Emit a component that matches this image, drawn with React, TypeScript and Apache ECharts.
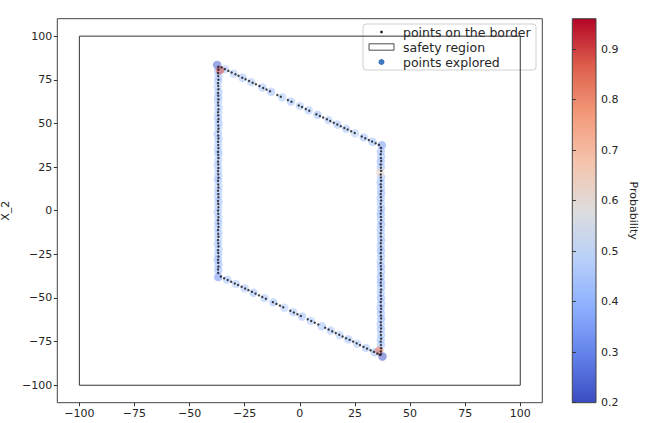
import React, { useEffect, useRef } from "react";
import * as echarts from "echarts";

// ---------- data ----------
const axisTicks = [-100, -75, -50, -25, 0, 25, 50, 75, 100];
const colorbarTicks = [0.2, 0.3, 0.4, 0.5, 0.6, 0.7, 0.8, 0.9];
const probRange = [0.2, 0.96];

const safetyRegion: number[][] = [
  [-100, -100], [-100, 100], [100, 100], [100, -100], [-100, -100],
];

const borderLeft: number[][] = [
  [-37.0, 82.5], [-36.9, 80.8], [-37.1, 78.9], [-37.0, 77.2], [-36.9, 75.0], [-37.1, 73.1], [-37.0, 71.4],
  [-36.9, 69.6], [-37.1, 67.5], [-37.0, 65.9], [-36.9, 63.8], [-37.1, 62.0], [-37.0, 60.3], [-36.9, 58.1],
  [-37.1, 56.4], [-37.0, 54.6], [-36.9, 52.5], [-37.1, 50.9], [-37.0, 48.8], [-36.9, 47.0], [-37.1, 45.2],
  [-37.0, 43.1], [-36.9, 41.4], [-37.1, 39.5], [-37.0, 37.6], [-36.9, 35.8], [-37.1, 33.7], [-37.0, 32.0],
  [-36.9, 30.1], [-37.1, 28.2], [-37.0, 26.5], [-36.9, 24.4], [-37.1, 22.7], [-37.0, 20.8], [-36.9, 18.9],
  [-37.1, 17.1], [-37.0, 15.0], [-36.9, 13.3], [-37.1, 11.4], [-37.0, 9.5], [-36.9, 7.7], [-37.1, 5.6],
  [-37.0, 3.9], [-36.9, 2.0], [-37.1, 0.1], [-37.0, -1.7], [-36.9, -3.8], [-37.1, -5.5], [-37.0, -7.4],
  [-36.9, -9.3], [-37.1, -11.1], [-37.0, -13.2], [-36.9, -14.9], [-37.1, -16.8], [-37.0, -18.7],
  [-36.9, -20.5], [-37.1, -22.6], [-37.0, -24.3], [-36.9, -26.2], [-37.1, -28.1], [-37.0, -29.9],
  [-36.9, -32.0], [-37.1, -33.7], [-37.0, -35.6],
];

const borderTop: number[][] = [
  [-35.5, 82.1], [-34.0, 81.1], [-32.4, 80.1], [-30.9, 79.2], [-29.2, 78.2], [-27.8, 77.3], [-26.1, 76.2],
  [-24.6, 75.3], [-23.0, 74.3], [-21.4, 73.3], [-19.9, 72.4], [-18.3, 71.4], [-16.6, 70.3], [-15.1, 69.4],
  [-13.5, 68.4], [-10.2, 66.3], [-8.6, 65.3], [-5.4, 63.4], [-3.8, 62.4], [-0.5, 60.3], [1.0, 59.4],
  [2.7, 58.3], [4.3, 57.3], [7.5, 55.3], [9.1, 54.3], [10.6, 53.4], [12.3, 52.4], [13.8, 51.4],
  [15.4, 50.4], [17.0, 49.4], [18.6, 48.4], [20.2, 47.4], [21.7, 46.5], [23.3, 45.5], [24.9, 44.5],
  [28.1, 42.5], [29.7, 41.5], [31.3, 40.5], [32.8, 39.6], [34.4, 38.6], [35.9, 37.7],
];

const borderRight: number[][] = [
  [36.8, 36.0], [36.9, 34.1], [36.7, 32.3], [36.8, 30.2], [36.9, 28.4], [36.7, 26.5], [36.8, 24.6],
  [36.9, 22.8], [36.7, 20.7], [36.8, 19.0], [36.9, 17.1], [36.7, 15.2], [36.8, 13.4], [36.9, 11.3],
  [36.7, 9.6], [36.8, 7.7], [36.9, 5.8], [36.7, 4.0], [36.8, 1.9], [36.9, 0.2], [36.7, -1.7],
  [36.8, -3.6], [36.9, -5.4], [36.7, -7.5], [36.8, -9.2], [36.9, -11.1], [36.7, -13.0], [36.8, -14.8],
  [36.9, -16.9], [36.7, -18.6], [36.8, -20.5], [36.9, -22.4], [36.7, -24.2], [36.8, -26.3], [36.9, -28.0],
  [36.7, -29.9], [36.8, -31.8], [36.9, -33.6], [36.7, -35.7], [36.8, -37.4], [36.9, -39.3], [36.7, -41.2],
  [36.8, -43.0], [36.9, -45.1], [36.7, -46.8], [36.8, -48.7], [36.9, -50.6], [36.7, -52.4], [36.8, -54.5],
  [36.9, -56.2], [36.7, -58.1], [36.8, -60.0], [36.9, -61.8], [36.7, -63.9], [36.8, -65.6], [36.9, -67.5],
  [36.7, -69.4], [36.8, -71.2], [36.9, -73.3], [36.7, -75.0], [36.8, -76.9], [36.9, -78.8], [36.7, -80.6],
  [36.8, -82.3],
];

const borderBottom: number[][] = [
  [-35.8, -37.7], [-34.3, -38.7], [-32.7, -39.7], [-31.1, -40.7], [-29.5, -41.7], [-28.0, -42.6],
  [-26.4, -43.6], [-24.8, -44.6], [-23.3, -45.5], [-21.7, -46.5], [-20.1, -47.5], [-18.5, -48.5],
  [-17.0, -49.4], [-15.4, -50.4], [-12.2, -52.4], [-10.6, -53.4], [-9.0, -54.4], [-7.5, -55.3],
  [-4.3, -57.3], [-2.7, -58.3], [-1.1, -59.3], [0.5, -60.3], [3.6, -62.2], [5.2, -63.2], [6.8, -64.2],
  [8.4, -65.2], [11.5, -67.1], [13.1, -68.1], [14.7, -69.1], [16.3, -70.1], [17.9, -71.1], [19.4, -72.1],
  [21.0, -73.1], [22.6, -74.0], [24.2, -75.0], [25.8, -76.0], [27.3, -77.0], [28.9, -78.0], [30.5, -79.0],
  [32.1, -80.0], [33.6, -80.9], [35.2, -81.9], [36.3, -82.6],
];

// [x, y, probability]
const exploredLeft: number[][] = [
  [-37.1, 80, 0.44], [-36.9, 77, 0.46], [-37.0, 74.5, 0.43], [-37.2, 71, 0.47], [-36.9, 68, 0.45],
  [-37.0, 65, 0.42], [-37.1, 62.5, 0.46], [-36.9, 59, 0.44], [-37.0, 56, 0.47], [-37.1, 53, 0.43],
  [-36.8, 50, 0.45], [-37.0, 47.5, 0.46], [-37.2, 44, 0.42], [-36.9, 41, 0.44], [-37.0, 38, 0.47],
  [-37.1, 35, 0.45], [-36.9, 32.5, 0.43], [-37.0, 29, 0.46], [-37.2, 26, 0.44], [-36.9, 23, 0.47],
  [-37.0, 20, 0.45], [-37.1, 17.5, 0.42], [-36.9, 14, 0.46], [-37.0, 11, 0.44], [-37.1, 8, 0.45],
  [-36.9, 5, 0.43], [-37.0, 2, 0.47], [-37.2, -1, 0.44], [-36.9, -4, 0.46], [-37.0, -7, 0.42],
  [-37.1, -10, 0.45], [-36.9, -13, 0.44], [-37.0, -16, 0.47], [-37.1, -19, 0.43], [-36.9, -22, 0.45],
  [-37.0, -25, 0.44], [-37.2, -28, 0.40], [-36.9, -31, 0.42], [-37.0, -34, 0.41],
];

const exploredTop: number[][] = [
  [-34, 81.1, 0.45], [-30, 78.6, 0.47], [-26, 76.2, 0.44], [-22, 73.7, 0.46], [-17, 70.6, 0.45],
  [-13, 68.1, 0.43], [-8, 65.0, 0.46], [-4, 62.5, 0.44], [0, 60.0, 0.47], [4, 57.5, 0.45],
  [8, 55.0, 0.43], [13, 51.9, 0.46], [17, 49.4, 0.44], [21, 46.9, 0.45], [25, 44.4, 0.47],
  [29, 42.0, 0.44], [33, 39.5, 0.43],
];

const exploredRight: number[][] = [
  [36.8, 34, 0.42], [36.9, 31, 0.44], [36.7, 28, 0.41], [36.8, 25, 0.43], [36.9, 19, 0.45],
  [36.7, 16, 0.42], [36.8, 13, 0.44], [36.9, 10, 0.41], [36.7, 7, 0.43], [36.8, 4, 0.45],
  [36.9, 1, 0.42], [36.7, -2, 0.40], [36.8, -5, 0.44], [36.9, -8, 0.41], [36.7, -11, 0.43],
  [36.8, -14, 0.45], [36.9, -17, 0.42], [36.7, -20, 0.44], [36.8, -23, 0.40], [36.9, -26, 0.43],
  [36.7, -29, 0.45], [36.8, -32, 0.41], [36.9, -35, 0.44], [36.7, -38, 0.42], [36.8, -41, 0.40],
  [36.9, -44, 0.43], [36.7, -47, 0.45], [36.8, -50, 0.41], [36.9, -53, 0.44], [36.7, -56, 0.42],
  [36.8, -59, 0.43], [36.9, -62, 0.41], [36.7, -65, 0.44], [36.8, -68, 0.42], [36.9, -71, 0.45],
  [36.7, -74, 0.43], [36.8, -77, 0.44],
];

const exploredBottom: number[][] = [
  [-33, -39.5, 0.44], [-29, -42.0, 0.46], [-25, -44.5, 0.45], [-21, -47.0, 0.43], [-16, -50.1, 0.46],
  [-12, -52.5, 0.44], [-7, -55.6, 0.47], [-3, -58.1, 0.45], [1, -60.6, 0.43], [5, -63.1, 0.46],
  [10, -66.2, 0.44], [14, -68.7, 0.45], [18, -71.2, 0.47], [22, -73.7, 0.44], [26, -76.2, 0.46],
  [30, -78.6, 0.45], [34, -81.1, 0.43],
];

const exploredCorners: number[][] = [
  [36.5, 22, 0.62],
  [-37.5, 83.5, 0.24], [-36.2, 80.5, 0.88], [37.2, 37.5, 0.34], [-37.0, -38.0, 0.32],
  [36.0, -80.2, 0.85], [37.5, -83.5, 0.22],
];

const coolwarm = [
  "#3b4cc0", "#6282ea", "#8db0fe", "#b8d0f9", "#dddddd", "#f5c4ad", "#f49a7b", "#de604d", "#b40426",
];

const legendLabels = ["points on the border", "safety region", "points explored"];

// ---------- chart ----------
const FONT = "DejaVu Sans";
const TEXT = "#262626";
const minus = (v: number) => String(v).replace("-", "\u2212");

export default function App() {
  const ref = useRef<HTMLDivElement>(null);

  useEffect(() => {
    document.body.style.margin = "0";
    if (!ref.current) return;
    const chart = echarts.init(ref.current, null, { renderer: "svg" });

    const borderPoints = [...borderLeft, ...borderTop, ...borderRight, ...borderBottom];
    const exploredPoints = [...exploredLeft, ...exploredTop, ...exploredRight, ...exploredBottom, ...exploredCorners];

    const gradientStops = coolwarm.map((c, i) => ({ offset: i / (coolwarm.length - 1), color: c }));

    const legendX = 363;
    const legendY = 24;
    const rowY = [32, 47, 62];

    chart.setOption({
      animation: false,
      textStyle: { fontFamily: FONT },
      grid: [
        {
          left: 57.3, top: 18.7, right: 105.7, bottom: 20.3,
          containLabel: false, outerBoundsMode: "none",
          show: true, borderColor: "#444", borderWidth: 1, backgroundColor: "#fff",
        },
        {
          left: 572.3, top: 18.7, width: 23.7, height: 384,
          containLabel: false, outerBoundsMode: "none",
          show: true, borderColor: "#444", borderWidth: 1,
          backgroundColor: new echarts.graphic.LinearGradient(0, 1, 0, 0, gradientStops),
        },
      ],
      xAxis: [
        {
          type: "value", gridIndex: 0, min: -110, max: 110,
          name: "X_1", nameLocation: "middle", nameGap: 15,
          nameTextStyle: { fontSize: 11, color: TEXT, fontFamily: FONT },
          axisLine: { show: false, onZero: false },
          axisTick: { show: true, inside: false, length: 3.5, customValues: axisTicks, lineStyle: { color: "#333" } },
          axisLabel: { customValues: axisTicks, fontSize: 11, color: TEXT, margin: 5, fontFamily: FONT, formatter: minus },
          splitLine: { show: false },
        },
        { type: "value", gridIndex: 1, min: 0, max: 1, show: false },
      ],
      yAxis: [
        {
          type: "value", gridIndex: 0, min: -110, max: 110,
          name: "X_2", nameLocation: "middle", nameGap: 42,
          nameTextStyle: { fontSize: 11, color: TEXT, fontFamily: FONT },
          axisLine: { show: false, onZero: false },
          axisTick: { show: true, inside: false, length: 3.5, customValues: axisTicks, lineStyle: { color: "#333" } },
          axisLabel: { customValues: axisTicks, fontSize: 11, color: TEXT, margin: 5, fontFamily: FONT, formatter: minus },
          splitLine: { show: false },
        },
        {
          type: "value", gridIndex: 1, min: probRange[0], max: probRange[1], position: "right",
          name: "Probability", nameLocation: "middle", nameGap: 32, nameRotate: -90,
          nameTextStyle: { fontSize: 11, color: TEXT, fontFamily: FONT },
          axisLine: { show: false },
          axisTick: { show: true, inside: false, length: 3.5, customValues: colorbarTicks, lineStyle: { color: "#333" } },
          axisLabel: {
            customValues: colorbarTicks, fontSize: 11, color: TEXT, margin: 5, fontFamily: FONT,
            formatter: (v: number) => v.toFixed(1),
          },
          splitLine: { show: false },
        },
      ],
      visualMap: {
        type: "continuous", show: false, min: probRange[0], max: probRange[1], dimension: 2,
        seriesIndex: 1, inRange: { color: coolwarm },
      },
      series: [
        {
          name: legendLabels[1], type: "line", xAxisIndex: 0, yAxisIndex: 0, data: safetyRegion,
          symbol: "none", silent: true, lineStyle: { color: "#333", width: 1 }, z: 1,
        },
        {
          name: legendLabels[2], type: "scatter", xAxisIndex: 0, yAxisIndex: 0, data: exploredPoints,
          symbolSize: 8.5, itemStyle: { opacity: 0.55 }, silent: true, z: 2,
        },
        {
          name: legendLabels[0], type: "scatter", xAxisIndex: 0, yAxisIndex: 0, data: borderPoints,
          symbolSize: 2.4, itemStyle: { color: "#111" }, silent: true, z: 3,
        },
      ],
      graphic: [
        {
          type: "group", z: 100,
          children: [
            {
              type: "rect", shape: { x: legendX, y: legendY, width: 173, height: 46, r: 3 },
              style: { fill: "rgba(255,255,255,0.8)", stroke: "#d0d0d0", lineWidth: 1 },
            },
            { type: "circle", shape: { cx: 381.5, cy: rowY[0], r: 1.3 }, style: { fill: "#111" } },
            {
              type: "rect", shape: { x: 369, y: rowY[1] - 3.2, width: 25, height: 6.4 },
              style: { fill: "#fff", stroke: "#222", lineWidth: 0.8 },
            },
            { type: "circle", shape: { cx: 381.5, cy: rowY[2], r: 3 }, style: { fill: "#3d79c0" } },
            ...legendLabels.map((t, i) => ({
              type: "text", x: 403, y: rowY[i],
              style: { text: t, fontSize: 12.5, fontFamily: FONT, fill: TEXT, verticalAlign: "middle", align: "left" },
            })),
          ],
        },
      ],
    });

    return () => chart.dispose();
  }, []);

  return <div ref={ref} style={{ width: 648, height: 423 }} />;
}
